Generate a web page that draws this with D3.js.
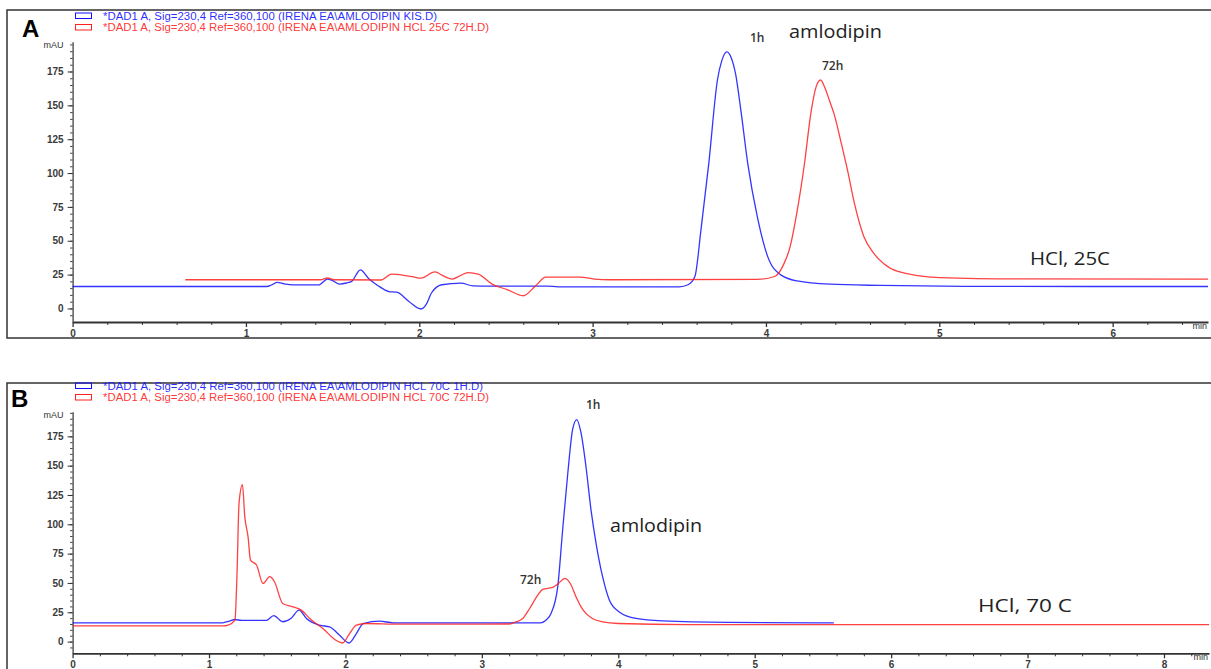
<!DOCTYPE html>
<html>
<head>
<meta charset="utf-8">
<script src="https://cdn.jsdelivr.net/npm/d3@7"></script>
<style>
  html, body { margin: 0; padding: 0; background: #fff; }
  svg { display: block; }
</style>
</head>
<body>
<svg id="chart" width="1211" height="669"></svg>
<script>
// ---------------- DATA ----------------
// Panel A: HCl, 25C  (time in min, signal in mAU)
const panelA_1h = [
  [0,16.2],[1.12,16.2],[1.15,17.5],[1.18,19.2],[1.22,18.2],[1.27,17.4],[1.42,17.4],[1.47,21.7],[1.5,20.5],
  [1.54,18],[1.58,18.8],[1.61,20],[1.66,28.5],[1.71,21.7],[1.76,17],[1.825,12.5],[1.87,12],[1.94,5.2],
  [2.01,-0.4],[2.04,3],[2.07,11.4],[2.13,17.5],[2.24,18.7],[2.31,16.7],[2.4,16.5],[2.74,16.5],[2.8,16],
  [3.5,16],[3.55,17.5],[3.59,23.6],[3.625,58],[3.67,107],[3.72,168.7],[3.745,183],[3.775,189.5],[3.8,185],
  [3.825,173],[3.855,146.5],[3.895,107],[3.95,67.8],[4.01,38.3],[4.085,24.8],[4.18,20.3],[4.37,17.9],
  [4.66,17],[5.2,16.3],[6.55,16.2]
];
const panelA_72h = [
  [0.65,21.2],[1.43,21.2],[1.47,22.5],[1.51,21.2],[1.78,21],[1.84,25.3],[1.91,24.5],[1.96,23.5],[2.01,22.4],
  [2.09,27],[2.14,24],[2.19,21.7],[2.24,24.5],[2.28,26.5],[2.34,25.3],[2.42,18],[2.51,13.8],[2.6,9.4],
  [2.67,16.6],[2.73,23.1],[2.93,23.1],[3.01,21.7],[3.1,21.2],[3.95,21.5],[4.05,23.6],[4.1,32],[4.14,46],
  [4.18,72],[4.22,105],[4.26,145],[4.29,164],[4.315,168.7],[4.34,163],[4.365,154],[4.395,142.8],[4.43,124.4],
  [4.47,102.3],[4.51,77.8],[4.565,53],[4.62,41],[4.68,33],[4.76,27.3],[5.0,22.8],[5.5,21.8],[6.55,21.6]
];
// Panel B: HCl, 70 C
const panelB_1h = [
  [0,16],[1.1,16],[1.15,17.5],[1.19,18.8],[1.24,18],[1.42,18],[1.474,22.2],[1.54,16.9],[1.6,19.7],[1.66,26.8],
  [1.714,19.7],[1.81,14],[1.884,12.5],[1.957,5.4],[2.026,-1.2],[2.08,6.8],[2.13,15.4],[2.25,17.4],[2.35,16],
  [3.43,16],[3.47,18.2],[3.507,24],[3.556,46.7],[3.59,92.4],[3.63,143.7],[3.665,180.7],[3.695,189.3],
  [3.727,177.9],[3.763,149.3],[3.8,112.3],[3.837,83.8],[3.885,55.3],[3.935,35.3],[4.007,25.3],[4.13,19.7],
  [4.324,17.6],[4.8,16.3],[5.58,16]
];
const panelB_72h = [
  [0,13.3],[1.1,13.3],[1.14,14],[1.19,18.2],[1.206,61],[1.22,118],[1.245,133.7],[1.262,106.6],[1.286,89.5],
  [1.304,69.5],[1.348,65.3],[1.396,49.6],[1.445,55.3],[1.48,51],[1.54,32.5],[1.616,29.6],[1.677,26.8],
  [1.738,19.7],[1.835,11.1],[1.93,1.1],[1.98,-1.2],[2.03,6.8],[2.08,14],[2.15,15.4],[2.4,14.8],[3.2,15],
  [3.25,16.8],[3.3,19.7],[3.35,28.2],[3.41,39.6],[3.446,44.5],[3.52,46.2],[3.556,49],[3.61,53.9],[3.654,48.2],
  [3.69,38.2],[3.727,29.6],[3.763,24],[3.81,19.7],[3.885,16.8],[4.0,15.4],[4.5,14.5],[8.33,14.5]
];
const yTickLabels = [0, 25, 50, 75, 100, 125, 150, 175];
const xTicksA = [0, 1, 2, 3, 4, 5, 6];
const xTicksB = [0, 1, 2, 3, 4, 5, 6, 7, 8];
const legendA = ["*DAD1 A, Sig=230,4 Ref=360,100 (IRENA EA\\AMLODIPIN KIS.D)",
                 "*DAD1 A, Sig=230,4 Ref=360,100 (IRENA EA\\AMLODIPIN HCL 25C 72H.D)"];
const legendB = ["*DAD1 A, Sig=230,4 Ref=360,100 (IRENA EA\\AMLODIPIN HCL 70C 1H.D)",
                 "*DAD1 A, Sig=230,4 Ref=360,100 (IRENA EA\\AMLODIPIN HCL 70C 72H.D)"];

// ---------------- DRAW ----------------
const svg = d3.select("#chart");
const BLUE = "#1010ff", RED = "#ff2020";
const axisFont = "'Liberation Sans', Arial, sans-serif";
const annFont = "'Open Sans', 'Noto Sans', sans-serif";

function drawPanel(o) {
  const g = svg.append("g");
  g.append("rect").attr("x", o.frame[0]).attr("y", o.frame[1])
    .attr("width", o.frame[2]).attr("height", o.frame[3])
    .attr("fill", "none").attr("stroke", "#333").attr("stroke-width", 1.5);

  const x = d3.scaleLinear().domain(o.xDomain).range(o.xRange);
  const y = d3.scaleLinear().domain(o.yDomain).range(o.yRange);

  const yMinor = d3.range(-5, o.yDomain[1], 5);
  g.append("g").attr("transform", `translate(${o.xRange[0]},0)`)
    .call(d3.axisLeft(y).tickValues(yMinor).tickSize(2.5).tickFormat(""))
    .call(s => s.select(".domain").remove())
    .call(s => s.selectAll("line").attr("stroke", "#444"));
  const ya = g.append("g").attr("transform", `translate(${o.xRange[0]},0)`)
    .call(d3.axisLeft(y).tickValues(yTickLabels).tickSize(5).tickPadding(4).tickSizeOuter(0)
      .tickFormat(d3.format("d")));
  ya.select(".domain").attr("stroke", "#333").attr("stroke-width", 1.2);
  ya.selectAll("line").attr("stroke", "#333");
  ya.selectAll("text").attr("font-family", axisFont).attr("font-size", 10)
    .attr("fill", "#3a3a3a").attr("font-weight", "bold");

  const xMinor = d3.range(0.2, o.xDomain[1], 0.2).filter(v => Math.abs(v - Math.round(v)) > 0.01);
  g.append("g").attr("transform", `translate(0,${o.yRange[0]})`)
    .call(d3.axisBottom(x).tickValues(xMinor).tickSize(3).tickFormat(""))
    .call(s => s.select(".domain").remove())
    .call(s => s.selectAll("line").attr("stroke", "#333"));
  const xa = g.append("g").attr("transform", `translate(0,${o.yRange[0]})`)
    .call(d3.axisBottom(x).tickValues(o.xTicks).tickSize(5).tickPadding(3).tickSizeOuter(0)
      .tickFormat(d3.format("d")));
  xa.select(".domain").attr("stroke", "#333").attr("stroke-width", 1.8);
  xa.selectAll("line").attr("stroke", "#333").attr("stroke-width", 1.3);
  xa.selectAll("text").attr("font-family", axisFont).attr("font-size", 10)
    .attr("fill", "#3a3a3a").attr("font-weight", "bold");

  g.append("text").attr("x", o.xRange[1] - 1).attr("y", o.yRange[0] + 7)
    .attr("text-anchor", "end").attr("font-family", axisFont).attr("font-size", 9)
    .attr("fill", "#333").text("min");
  g.append("text").attr("x", o.xRange[0] - 9).attr("y", y(o.yDomain[1]) + 6)
    .attr("text-anchor", "end").attr("font-family", axisFont).attr("font-size", 9)
    .attr("fill", "#333").text("mAU");

  const line = d3.line().x(d => x(d[0])).y(d => y(d[1])).curve(d3.curveMonotoneX);
  o.series.forEach(s => {
    g.append("path").datum(s.data).attr("d", line)
      .attr("fill", "none").attr("stroke", s.color).attr("stroke-width", 1.3)
      .attr("stroke-opacity", 0.85).attr("stroke-linejoin", "round");
  });

  g.append("text").attr("x", o.letterPos[0]).attr("y", o.letterPos[1])
    .attr("font-family", "'Liberation Sans', Arial, sans-serif").attr("font-weight", "bold")
    .attr("font-size", 24).attr("fill", "#000").text(o.letter);

  o.legend.forEach((t, i) => {
    const c = i === 0 ? BLUE : RED;
    const ly = o.legendY + i * 11.5;
    g.append("rect").attr("x", 75.5).attr("y", ly - 3).attr("width", 16).attr("height", 5.5)
      .attr("fill", "none").attr("stroke", c).attr("stroke-width", 1);
    g.append("text").attr("x", 103).attr("y", ly + 3.5)
      .attr("font-family", axisFont).attr("font-size", 10).attr("fill", c).attr("fill-opacity", 0.9)
      .attr("textLength", o.legendLen[i]).attr("lengthAdjust", "spacingAndGlyphs")
      .text(t);
  });

  o.ann.forEach(a => {
    const t = g.append("text").attr("x", a.x).attr("y", a.y).attr("font-family", annFont)
      .attr("font-size", a.size).attr("fill", a.color || "#222")
      .attr("font-weight", a.bold ? 600 : 400).text(a.t);
    if (a.len) t.attr("textLength", a.len).attr("lengthAdjust", "spacingAndGlyphs");
  });
}

drawPanel({
  frame: [7, 10, 1210, 328],
  xDomain: [0, 6.55], xRange: [72.6, 1208],
  yDomain: [-10, 197], yRange: [322, 41.7],
  xTicks: xTicksA,
  series: [{data: panelA_1h, color: BLUE}, {data: panelA_72h, color: RED}],
  letter: "A", letterPos: [22, 37],
  legend: legendA, legendY: 16, legendLen: [334, 386],
  ann: [
    {t: "1h", x: 750, y: 41.5, size: 12, bold: true, color: "#333"},
    {t: "amlodipin", x: 789, y: 38, size: 18, len: 93},
    {t: "72h", x: 822, y: 70, size: 12, bold: true, color: "#333"},
    {t: "HCl, 25C", x: 1030, y: 265, size: 18, len: 80}
  ]
});

drawPanel({
  frame: [7, 383, 1210, 300],
  xDomain: [0, 8.33], xRange: [72.6, 1209],
  yDomain: [-10, 196], yRange: [653.3, 411.7],
  xTicks: xTicksB,
  series: [{data: panelB_1h, color: BLUE}, {data: panelB_72h, color: RED}],
  letter: "B", letterPos: [11, 407],
  legend: legendB, legendY: 386, legendLen: [380, 386],
  ann: [
    {t: "1h", x: 586, y: 409, size: 12, bold: true, color: "#333"},
    {t: "amlodipin", x: 610, y: 532, size: 18, len: 92},
    {t: "72h", x: 520, y: 584, size: 12, bold: true, color: "#333"},
    {t: "HCl, 70 C", x: 978, y: 612, size: 18, len: 94}
  ]
});
</script>
</body>
</html>
